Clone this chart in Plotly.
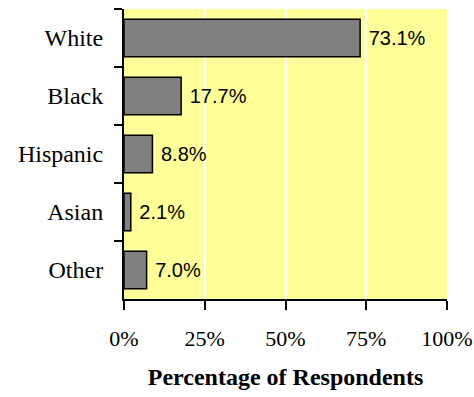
import plotly.graph_objects as go

# Respondent race / ethnicity breakdown
categories = ["White", "Black", "Hispanic", "Asian", "Other"]
percentages = [73.1, 17.7, 8.8, 2.1, 7.0]
x_ticks = [0, 25, 50, 75, 100]
x_tick_labels = ["0%", "25%", "50%", "75%", "100%"]

serif = "Liberation Serif, Times New Roman, serif"
sans = "Liberation Sans, Arial, sans-serif"

fig = go.Figure(
    go.Bar(
        x=percentages,
        y=categories,
        orientation="h",
        marker=dict(color="#808080", line=dict(color="#000000", width=1.5)),
        width=0.65,
        text=[f" {v:.1f}%" for v in percentages],
        textposition="outside",
        textfont=dict(family=sans, size=20, color="#000000"),
        cliponaxis=False,
        hoverinfo="skip",
    )
)

fig.update_layout(
    width=474,
    height=397,
    margin=dict(l=124, r=27, t=9, b=98),
    paper_bgcolor="#FFFFFF",
    plot_bgcolor="#FFFF99",
    showlegend=False,
    xaxis=dict(
        range=[0, 100],
        tickvals=x_ticks,
        ticktext=x_tick_labels,
        tickfont=dict(family=serif, size=22, color="#000000"),
        showgrid=True,
        gridcolor="#FFFFFF",
        gridwidth=2,
        zeroline=False,
        showline=True,
        linecolor="#000000",
        linewidth=2,
        ticks="outside",
        ticklen=9,
        tickwidth=2,
        tickcolor="#000000",
        ticklabelstandoff=10,
        automargin=False,
        title=dict(
            text="<b>Percentage of Respondents</b>",
            font=dict(family=serif, size=24, color="#000000"),
            standoff=18,
        ),
        fixedrange=True,
    ),
    yaxis=dict(
        autorange="reversed",
        tickfont=dict(family=serif, size=24, color="#000000"),
        showgrid=False,
        zeroline=False,
        showline=True,
        linecolor="#000000",
        linewidth=2,
        ticks="outside",
        tickson="boundaries",
        ticklen=8,
        tickwidth=2,
        tickcolor="#000000",
        ticklabelstandoff=14,
        automargin=False,
        fixedrange=True,
    ),
)

fig.write_html("out.html")
